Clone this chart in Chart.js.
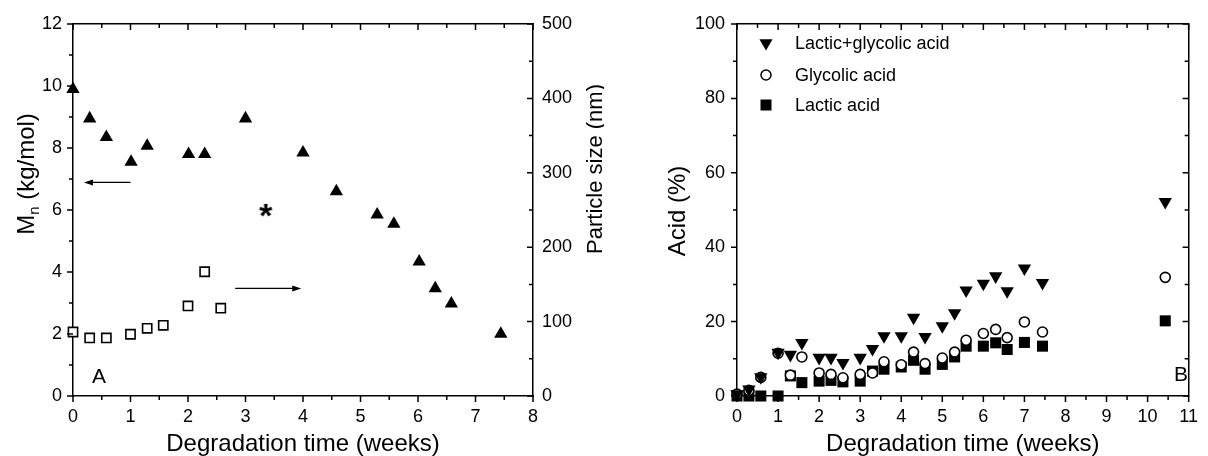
<!DOCTYPE html>
<html>
<head>
<meta charset="utf-8">
<script src="https://cdn.jsdelivr.net/npm/chart.js@4.4.1/dist/chart.umd.min.js"></script>
<style>
  html, body { margin: 0; padding: 0; background: #fff; }
  #wrap { position: relative; width: 1208px; height: 456px; }
  .box { position: absolute; top: 0; width: 604px; height: 456px; }
</style>
</head>
<body>
<div id="wrap">
  <div class="box" style="left:0"><canvas id="chartA" width="604" height="456"></canvas></div>
  <div class="box" style="left:604px"><canvas id="chartB" width="604" height="456"></canvas></div>
</div>
<script>
// ---- panel A: Mn and particle size vs degradation time
const weeksMn = [0, 0.29, 0.58, 1.01, 1.29, 2.01, 2.29, 3.0, 4.0, 4.58, 5.29, 5.58, 6.02, 6.30, 6.58, 7.44];
const mn = [9.9, 8.95, 8.35, 7.55, 8.07, 7.8, 7.8, 8.95, 7.85, 6.6, 5.85, 5.55, 4.33, 3.47, 2.98, 2.0];
const weeksSize = [0, 0.29, 0.58, 1.0, 1.29, 1.57, 2.0, 2.29, 2.57];
const particleSize = [86, 78, 78, 83, 91, 95, 121, 167, 118];
const starWeek = [3.35];
const starMn = [6.1];

// ---- panel B: released acid vs degradation time
const weeksAcid = [0, 0.29, 0.58, 1.0, 1.3, 1.58, 2.0, 2.29, 2.58, 3.0, 3.3, 3.58, 4.0, 4.3, 4.58, 5.0, 5.3, 5.58, 6.0, 6.3, 6.58, 7.0, 7.44, 10.43];
const lacticGlycolic = [0.5, 1.8, 5.1, 11.7, 11.1, 14.3, 10.3, 10.3, 8.9, 10.3, 12.7, 16.1, 16.1, 21.1, 15.9, 18.8, 22.3, 28.4, 30.2, 32.2, 28.2, 34.3, 30.4, 52.2];
const glycolic = [0.5, 1.5, 5.0, 11.5, 5.6, 10.5, 6.2, 5.8, 4.9, 5.8, 6.2, 9.2, 8.4, 11.8, 8.7, 10.2, 11.8, 15.0, 16.8, 17.9, 15.7, 19.9, 17.2, 31.9];
const lactic = [0, 0, 0, 0, 5.4, 3.6, 4.0, 4.2, 3.8, 4.0, 6.7, 7.2, 7.8, 9.6, 7.2, 8.5, 10.5, 13.4, 13.4, 14.3, 12.5, 14.4, 13.4, 20.2];
const legendLabels = ['Lactic+glycolic acid', 'Glycolic acid', 'Lactic acid'];

// arrows in panel A, in data units: [fromWeek, toWeek, value]
const arrowToMn = [1.0, 0.19, 6.89];
const arrowToSize = [2.82, 3.97, 3.47];

const FONT = 'Liberation Sans';
const pts = (xs, ys) => xs.map((x, i) => ({ x: x, y: ys[i] }));

// asterisk marker as an image point style
const starImg = document.createElement('canvas');
starImg.width = 40; starImg.height = 40;
(function () {
  const c = starImg.getContext('2d');
  c.font = 'bold 34px "' + FONT + '"';
  c.textAlign = 'center';
  c.fillStyle = '#000';
  c.fillText('*', 20, 20 + 0.58 * 34);
})();

function axis(opts) {
  return Object.assign({
    type: 'linear',
    grid: { display: false, drawTicks: false },
    border: { display: true, color: '#000', width: 1.5 },
    ticks: { color: '#000', font: { family: FONT, size: 18 } }
  }, opts);
}

// hand drawn tick marks: major + minor, outward on left/bottom, inward on top/right
function tickMarks(ctx, scale, minorStep, majorStep) {
  const a = scale.chart.chartArea;
  ctx.save();
  ctx.strokeStyle = '#000';
  ctx.lineWidth = 1.5;
  ctx.beginPath();
  const n = Math.round((scale.max - scale.min) / minorStep);
  for (let i = 0; i <= n; i++) {
    const v = scale.min + i * minorStep;
    const major = Math.abs(v / majorStep - Math.round(v / majorStep)) < 1e-6;
    const len = major ? 6 : 4;
    const p = scale.getPixelForValue(v);
    if (scale.position === 'bottom') { ctx.moveTo(p, a.bottom); ctx.lineTo(p, a.bottom + len); }
    else if (scale.position === 'top') { ctx.moveTo(p, a.top); ctx.lineTo(p, a.top + len); }
    else if (scale.position === 'left') { ctx.moveTo(a.left, p); ctx.lineTo(a.left - len, p); }
    else { ctx.moveTo(a.right, p); ctx.lineTo(a.right - len, p); }
  }
  ctx.stroke();
  ctx.restore();
}

function vtext(ctx, x, y, parts) {
  // parts: [text, size, baselineShift]
  ctx.save();
  ctx.translate(x, y);
  ctx.rotate(-Math.PI / 2);
  let total = 0;
  parts.forEach(p => { ctx.font = p[1] + 'px "' + FONT + '"'; total += ctx.measureText(p[0]).width; });
  let cx = -total / 2;
  ctx.textAlign = 'left';
  ctx.textBaseline = 'alphabetic';
  parts.forEach(p => {
    ctx.font = p[1] + 'px "' + FONT + '"';
    ctx.fillText(p[0], cx, p[2] || 0);
    cx += ctx.measureText(p[0]).width;
  });
  ctx.restore();
}

function arrow(ctx, x1, x2, y) {
  const dir = Math.sign(x2 - x1);
  ctx.save();
  ctx.strokeStyle = '#000';
  ctx.fillStyle = '#000';
  ctx.lineWidth = 1.3;
  ctx.beginPath();
  ctx.moveTo(x1, y); ctx.lineTo(x2 - dir * 6, y);
  ctx.stroke();
  ctx.beginPath();
  ctx.moveTo(x2, y);
  ctx.lineTo(x2 - dir * 9, y - 3);
  ctx.lineTo(x2 - dir * 9, y + 3);
  ctx.closePath();
  ctx.fill();
  ctx.restore();
}

const panelA = {
  id: 'panelA',
  afterDraw(chart) {
    const ctx = chart.ctx, s = chart.scales;
    tickMarks(ctx, s.x, 0.5, 1);
    tickMarks(ctx, s.xTop, 0.5, 1);
    tickMarks(ctx, s.y, 1, 2);
    tickMarks(ctx, s.y2, 50, 100);
    ctx.save();
    ctx.fillStyle = '#000';
    ctx.textAlign = 'center';
    ctx.font = '24px "' + FONT + '"';
    ctx.fillText('Degradation time (weeks)', (chart.chartArea.left + chart.chartArea.right) / 2, 451);
    ctx.font = '21px "' + FONT + '"';
    ctx.fillText('A', 99, 383);
    ctx.restore();
    vtext(ctx, 33.5, 174, [['M', 24, 0], ['n', 15, 5], [' (kg/mol)', 24, 0]]);
    vtext(ctx, 602, 169, [['Particle size (nm)', 22, 0]]);
    arrow(ctx, s.x.getPixelForValue(arrowToMn[0]), s.x.getPixelForValue(arrowToMn[1]), s.y.getPixelForValue(arrowToMn[2]));
    arrow(ctx, s.x.getPixelForValue(arrowToSize[0]), s.x.getPixelForValue(arrowToSize[1]), s.y.getPixelForValue(arrowToSize[2]));
  }
};

const panelB = {
  id: 'panelB',
  afterDraw(chart) {
    const ctx = chart.ctx, s = chart.scales;
    tickMarks(ctx, s.x, 0.5, 1);
    tickMarks(ctx, s.xTop, 0.5, 1);
    tickMarks(ctx, s.y, 10, 20);
    tickMarks(ctx, s.y2, 10, 20);
    ctx.save();
    ctx.fillStyle = '#000';
    ctx.textAlign = 'center';
    ctx.font = '24px "' + FONT + '"';
    ctx.fillText('Degradation time (weeks)', (chart.chartArea.left + chart.chartArea.right) / 2, 451);
    ctx.font = '21px "' + FONT + '"';
    ctx.fillText('B', 577, 381);
    ctx.restore();
    vtext(ctx, 81, 211, [['Acid (%)', 24, 0]]);

    // legend
    ctx.save();
    ctx.fillStyle = '#000';
    ctx.strokeStyle = '#000';
    const lx = 162, ly = [43, 75, 105];
    ctx.beginPath();
    const r = 7.6;
    ctx.moveTo(lx - r * 0.866, ly[0] - r / 2);
    ctx.lineTo(lx + r * 0.866, ly[0] - r / 2);
    ctx.lineTo(lx, ly[0] + r);
    ctx.closePath();
    ctx.fill();
    ctx.beginPath();
    ctx.lineWidth = 1.5;
    ctx.arc(lx, ly[1], 5, 0, Math.PI * 2);
    ctx.stroke();
    ctx.fillRect(lx - 5.5, ly[2] - 5.5, 11, 11);
    ctx.font = '18px "' + FONT + '"';
    ctx.textAlign = 'left';
    ctx.textBaseline = 'middle';
    legendLabels.forEach((t, i) => ctx.fillText(t, 191, ly[i] + 1));
    ctx.restore();
  }
};

const common = {
  responsive: false,
  animation: false,
  events: [],
  layout: { padding: 0 },
  plugins: { legend: { display: false }, tooltip: { enabled: false } }
};

new Chart(document.getElementById('chartA'), {
  type: 'scatter',
  data: {
    datasets: [
      { data: pts(weeksMn, mn), yAxisID: 'y', pointStyle: 'triangle', pointRadius: 7.7,
        backgroundColor: '#000', borderColor: '#000', borderWidth: 0, clip: false },
      { data: pts(weeksSize, particleSize), yAxisID: 'y2', pointStyle: 'rect', pointRadius: 6.5,
        backgroundColor: '#fff', borderColor: '#000', borderWidth: 1.6, clip: false },
      { data: pts(starWeek, starMn), yAxisID: 'y', pointStyle: starImg, pointRadius: 8, clip: false }
    ]
  },
  options: Object.assign({}, common, {
    scales: {
      x: axis({ position: 'bottom', min: 0, max: 8, ticks: { stepSize: 1, padding: 10, color: '#000', font: { family: FONT, size: 18 } },
        afterFit: s => { s.height = 60; } }),
      xTop: axis({ position: 'top', min: 0, max: 8, ticks: { display: false }, afterFit: s => { s.height = 24; } }),
      y: axis({ position: 'left', min: 0, max: 12, ticks: { stepSize: 2, padding: 11, color: '#000', font: { family: FONT, size: 18 } },
        afterFit: s => { s.width = 73; } }),
      y2: axis({ position: 'right', min: 0, max: 500, ticks: { stepSize: 100, padding: 9, color: '#000', font: { family: FONT, size: 18 } },
        afterFit: s => { s.width = 71; } })
    }
  }),
  plugins: [panelA]
});

new Chart(document.getElementById('chartB'), {
  type: 'scatter',
  data: {
    datasets: [
      { label: legendLabels[0], data: pts(weeksAcid, lacticGlycolic), pointStyle: 'triangle', rotation: 180, pointRadius: 7.7,
        backgroundColor: '#000', borderColor: '#000', borderWidth: 0, clip: false },
      { label: legendLabels[1], data: pts(weeksAcid, glycolic), pointStyle: 'circle', pointRadius: 5,
        backgroundColor: '#fff', borderColor: '#000', borderWidth: 1.6, clip: false },
      { label: legendLabels[2], data: pts(weeksAcid, lactic), pointStyle: 'rect', pointRadius: 7.8,
        backgroundColor: '#000', borderColor: '#000', borderWidth: 0, clip: false }
    ]
  },
  options: Object.assign({}, common, {
    scales: {
      x: axis({ position: 'bottom', min: 0, max: 11, ticks: { stepSize: 1, padding: 10, color: '#000', font: { family: FONT, size: 18 } },
        afterFit: s => { s.height = 60; } }),
      xTop: axis({ position: 'top', min: 0, max: 11, ticks: { display: false }, afterFit: s => { s.height = 24; } }),
      y: axis({ position: 'left', min: 0, max: 100, ticks: { stepSize: 20, padding: 12, color: '#000', font: { family: FONT, size: 18 } },
        afterFit: s => { s.width = 133; } }),
      y2: axis({ position: 'right', min: 0, max: 100, ticks: { display: false }, afterFit: s => { s.width = 11; } })
    }
  }),
  plugins: [panelB]
});
</script>
</body>
</html>
